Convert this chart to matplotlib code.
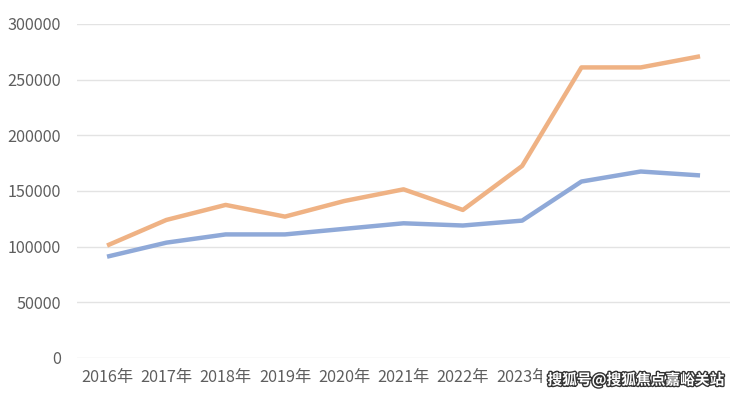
import matplotlib
matplotlib.use("Agg")
import matplotlib.pyplot as plt
import matplotlib.patheffects as pe

plt.rcParams['font.family'] = ['Noto Sans CJK SC', 'DejaVu Sans']

years = ["2016年", "2017年", "2018年", "2019年", "2020年", "2021年",
         "2022年", "2023年", "2024年", "2025年", "2026年"]
orange_vals = [101000, 124000, 137500, 127000, 141000, 151500,
               133000, 172500, 261000, 261000, 271000]
blue_vals = [91000, 103600, 111000, 111000, 116000, 121000,
             119000, 123400, 158500, 167500, 164000]
yticks = [0, 50000, 100000, 150000, 200000, 250000, 300000]
watermark = "搜狐号@搜狐焦点嘉峪关站"

fig = plt.figure(figsize=(7.4, 3.95), dpi=100)
ax = fig.add_axes([77.4/740, 1 - 358/395, 652.3/740, 334/395])

x = list(range(len(years)))
ax.plot(x, blue_vals, color="#8FA9D8", lw=3.2, solid_capstyle="butt", zorder=3)
ax.plot(x, orange_vals, color="#EFB284", lw=3.2, solid_capstyle="butt", zorder=3)

ax.set_xlim(-0.5, len(years) - 0.5)
ax.set_ylim(0, 300000)
ax.set_yticks(yticks)
ax.set_yticklabels([str(v) for v in yticks])
ax.set_xticks(x)
ax.set_xticklabels(years)
ax.grid(axis="y", color="#E3E3E3", lw=1)
ax.set_axisbelow(True)
for s in ax.spines.values():
    s.set_visible(False)
ax.tick_params(axis="both", length=0, labelsize=11.7, colors="#5E5E5E")
ax.tick_params(axis="y", pad=12)
ax.tick_params(axis="x", pad=8)

fig.text(636 / 740, 1 - 380 / 395, watermark, ha="center", va="center",
         fontsize=10.6, color="white", fontweight="bold",
         path_effects=[pe.withStroke(linewidth=2, foreground="#333333")],
         bbox=dict(facecolor="white", edgecolor="none", pad=4), zorder=10)

fig.savefig("out.png", dpi=100)
